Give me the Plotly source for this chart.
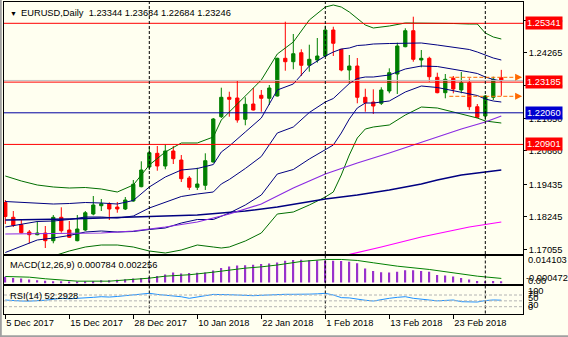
import plotly.graph_objects as go

W, H = 568, 337
FONT = "Liberation Sans"
BG = "#FFFFF0"

# ---------------- data ----------------
bars = list(range(63))
opens = [1.18771, 1.18229, 1.17958, 1.17690, 1.17591, 1.17653, 1.17371, 1.18229, 1.17763, 1.17371,
         1.17763, 1.18350, 1.18654, 1.18727, 1.18606, 1.18533, 1.18826, 1.19351, 1.20073, 1.20575,
         1.20109, 1.20659, 1.20329, 1.19670, 1.19329, 1.19402, 1.20256, 1.21917, 1.22628, 1.22602,
         1.21822, 1.22382, 1.22701, 1.22591, 1.22676, 1.24058, 1.23933, 1.24263, 1.23801, 1.23995,
         1.24142, 1.25095, 1.24388, 1.23629, 1.23775, 1.22628, 1.22456, 1.22408, 1.22859, 1.23482,
         1.24483, 1.25070, 1.23995, 1.24058, 1.23361, 1.22797, 1.23325, 1.22896, 1.23163, 1.22283,
         1.21942, 1.22628, 1.23344]
highs = [1.18863, 1.18460, 1.18130, 1.17763, 1.18093, 1.17910, 1.18313, 1.18595, 1.18093, 1.18313,
         1.18460, 1.19010, 1.18900, 1.18779, 1.18790, 1.18973, 1.19596, 1.20282, 1.20817, 1.20843,
         1.20905, 1.20843, 1.20513, 1.19743, 1.20047, 1.20575, 1.21869, 1.22980, 1.22833, 1.23226,
         1.22628, 1.22969, 1.22896, 1.23079, 1.24080, 1.25400, 1.24949, 1.24388, 1.24556, 1.24802,
         1.25253, 1.25216, 1.24400, 1.24179, 1.24069, 1.22943, 1.22921, 1.22995, 1.23691, 1.24630,
         1.25158, 1.25583, 1.24362, 1.24116, 1.23530, 1.23482, 1.23409, 1.23556, 1.23325, 1.22382,
         1.22712, 1.23383, 1.23634]
lows = [1.17983, 1.17873, 1.17642, 1.17276, 1.17569, 1.17103, 1.17276, 1.17664, 1.17470, 1.17349,
        1.17727, 1.18302, 1.18460, 1.18130, 1.18397, 1.18496, 1.18801, 1.19329, 1.19963, 1.19937,
        1.19989, 1.20183, 1.19523, 1.19230, 1.19230, 1.19230, 1.20238, 1.21869, 1.21917, 1.21697,
        1.21602, 1.22144, 1.22100, 1.22346, 1.22657, 1.23603, 1.23655, 1.23409, 1.23567, 1.23896,
        1.24116, 1.24142, 1.23581, 1.23141, 1.22408, 1.22100, 1.22016, 1.22346, 1.22775, 1.22749,
        1.24461, 1.23933, 1.23728, 1.23200, 1.22775, 1.22591, 1.22775, 1.22775, 1.22162, 1.21858,
        1.21796, 1.22529, 1.22684]
closes = [1.18258, 1.17936, 1.17664, 1.17591, 1.17653, 1.17371, 1.18229, 1.17738, 1.17496, 1.17800,
          1.18397, 1.18680, 1.18727, 1.18533, 1.18533, 1.18863, 1.19439, 1.19963, 1.20597, 1.20109,
          1.20659, 1.20377, 1.19644, 1.19329, 1.19450, 1.20304, 1.21832, 1.22628, 1.22555, 1.21796,
          1.22371, 1.22162, 1.22591, 1.22969, 1.24058, 1.23933, 1.24226, 1.23801, 1.24021, 1.24142,
          1.25095, 1.24608, 1.23629, 1.23775, 1.22628, 1.22430, 1.22309, 1.22896, 1.23530, 1.24509,
          1.25070, 1.24021, 1.24058, 1.23383, 1.22797, 1.23288, 1.22932, 1.23163, 1.22283, 1.21895,
          1.22676, 1.23288, 1.23246]

# Bollinger bands (read at selected bars)
bb_bars = [0, 2, 4, 6, 8, 10, 12, 14, 16, 18, 20, 22, 24, 26, 27, 28, 30, 32, 34, 36, 38, 40, 41,
           42, 43, 44, 45, 46, 48, 50, 52, 54, 56, 58, 59, 60, 61, 62]
bb_upper2 = [1.19743, 1.19560, 1.19413, 1.19340, 1.19303, 1.19321, 1.19266, 1.19156, 1.19413, 1.20146,
             1.20623, 1.20953, 1.20953, 1.21173, 1.21796, 1.22089, 1.22676, 1.23262, 1.24215, 1.24655,
             1.25462, 1.25938, 1.26012, 1.25938, 1.25755, 1.25499, 1.25279, 1.25169, 1.25242, 1.25352,
             1.25352, 1.25352, 1.25334, 1.25315, 1.25315, 1.24985, 1.24839, 1.24765]
bb_upper1 = [1.18808, 1.18771, 1.18753, 1.18716, 1.18735, 1.18771, 1.18753, 1.18716, 1.18845, 1.19340,
             1.19706, 1.19963, 1.20018, 1.20164, 1.20623, 1.20843, 1.21356, 1.21869, 1.22896, 1.23116,
             1.23775, 1.24142, 1.24289, 1.24399, 1.24435, 1.24527, 1.24545, 1.24582, 1.24600, 1.24619,
             1.24619, 1.24545, 1.24472, 1.24380, 1.24289, 1.24179, 1.24069, 1.23995]
bb_middle = [1.17873, 1.17965, 1.18075, 1.18093, 1.18148, 1.18240, 1.18240, 1.18203, 1.18276, 1.18570,
             1.18771, 1.18991, 1.19083, 1.19156, 1.19450, 1.19615, 1.20018, 1.20458, 1.21319, 1.21539,
             1.22071, 1.22456, 1.22584, 1.22859, 1.23134, 1.23317, 1.23372, 1.23372, 1.23446, 1.23666,
             1.23775, 1.23757, 1.23666, 1.23556, 1.23501, 1.23372, 1.23281, 1.23226]
bb_lower1 = [1.16938, 1.17158, 1.17397, 1.17470, 1.17562, 1.17690, 1.17727, 1.17690, 1.17708, 1.17782,
             1.17837, 1.18020, 1.18148, 1.18148, 1.18276, 1.18386, 1.18680, 1.19046, 1.19816, 1.19981,
             1.20366, 1.20714, 1.20879, 1.21319, 1.21832, 1.22236, 1.22419, 1.22419, 1.22492, 1.22822,
             1.23042, 1.22987, 1.22877, 1.22749, 1.22694, 1.22566, 1.22492, 1.22456]
bb_lower2 = [1.16003, 1.16370, 1.16737, 1.16810, 1.16993, 1.17140, 1.17213, 1.17213, 1.17140, 1.16993,
             1.16920, 1.17030, 1.17213, 1.17140, 1.17103, 1.17140, 1.17360, 1.17653, 1.18350, 1.18423,
             1.18680, 1.18973, 1.19156, 1.19780, 1.20513, 1.21136, 1.21466, 1.21539, 1.21613, 1.21979,
             1.22272, 1.22236, 1.22089, 1.21942, 1.21869, 1.21759, 1.21723, 1.21686]

# moving averages
ma_violet_bars = [0, 6, 12, 16, 20, 24, 28, 32, 36, 40, 44, 48, 51, 54, 57, 60, 62]
ma_violet = [1.17617, 1.17635, 1.17653, 1.17727, 1.17873, 1.18056, 1.18350, 1.18716, 1.19303,
             1.19816, 1.20219, 1.20586, 1.20879, 1.21173, 1.21466, 1.21723, 1.21942]
ma_navy_bars = [0, 8, 16, 24, 30, 34, 40, 44, 48, 52, 54, 57, 62]
ma_navy = [1.18130, 1.18167, 1.18240, 1.18313, 1.18460, 1.18606, 1.18900, 1.19046, 1.19230,
           1.19450, 1.19596, 1.19780, 1.19963]
ma_magenta_bars = [40, 44, 47, 52, 58, 62]
ma_magenta = [1.16663, 1.16920, 1.17140, 1.17507, 1.17873, 1.18056]

# MACD(12,26,9)
macd_hist = [0.00313, 0.00248, 0.00216, 0.00162, 0.00124, 0.00097, 0.00076, 0.00076, 0.00054, 0.00065,
             0.00070, 0.00081, 0.00124, 0.00130, 0.00157, 0.00184, 0.00221, 0.00254, 0.00308, 0.00356,
             0.00443, 0.00540, 0.00497, 0.00518, 0.00529, 0.00540, 0.00648, 0.00783, 0.00864, 0.00918,
             0.00934, 0.00966, 0.00999, 0.01026, 0.01090, 0.01177, 0.01220, 0.01231, 0.01204, 0.01198,
             0.01198, 0.01182, 0.01161, 0.01123, 0.01042, 0.00756, 0.00621, 0.00561, 0.00540, 0.00583,
             0.00669, 0.00669, 0.00626, 0.00583, 0.00410, 0.00378, 0.00335, 0.00254, 0.00167, 0.00086,
             0.00070, 0.00081, 0.000784]
signal_bars = [0, 3, 5, 9, 13, 16, 18, 20, 23, 26, 28, 30, 32, 34, 37, 40, 42, 44, 46, 49, 53, 56, 59, 62]
signal_vals = [0.00331, 0.00293, 0.00207, 0.00077, 0.00077, 0.00169, 0.00239, 0.00347, 0.00423, 0.00563,
               0.00690, 0.00779, 0.00850, 0.00950, 0.01141, 0.01249, 0.01249, 0.01195, 0.01070, 0.00887,
               0.00709, 0.00531, 0.00347, 0.002256]

# RSI(14)
rsi_vals = [52.9, 50.5, 49.5, 49.0, 49.5, 52.0, 55.3, 58.7, 57.0, 58.0,
            58.7, 62.0, 64.2, 63.0, 65.0, 68.0, 70.0, 73.0, 75.8, 72.0,
            70.0, 67.6, 64.0, 58.7, 62.0, 67.6, 72.0, 72.4, 71.0, 70.0,
            68.0, 67.6, 69.0, 71.0, 72.4, 72.4, 72.4, 72.0, 73.0, 74.0,
            75.8, 70.0, 61.0, 60.0, 55.5, 52.0, 49.5, 55.0, 58.7, 62.0,
            64.2, 58.7, 57.0, 52.9, 50.0, 51.0, 52.9, 47.1, 45.5, 46.0,
            51.0, 53.0, 52.29]
rsi_levels = [70, 50, 30]

price_ticks = [1.25455, 1.24265, 1.23075, 1.21850, 1.20660, 1.19435, 1.18245, 1.17055]
hline_levels = [1.25341, 1.23185, 1.22060, 1.20901]
hline_colors = ["#FF0000", "#FF0000", "#0000A0", "#FF0000"]
hline_box_colors = ["#FF0000", "#FF0000", "#0000D0", "#FF0000"]
bid_price = 1.23246
arrow_levels = [1.23361, 1.22665]
arrow_from, arrow_to = 55.5, 64.6
separators = [18, 40, 60]
date_ticks = [0, 8, 16, 24, 32, 40, 48, 56]
date_labels = ["5 Dec 2017", "15 Dec 2017", "28 Dec 2017", "10 Jan 2018", "22 Jan 2018",
               "1 Feb 2018", "13 Feb 2018", "23 Feb 2018"]
title_text = "EURUSD,Daily  1.23344 1.23634 1.22684 1.23246"
macd_text = "MACD(12,26,9) 0.000784 0.002256"
rsi_text = "RSI(14) 52.2928"

# ---------------- geometry ----------------
def pyp(Y):
    return 1 - Y / H

def pxp(X):
    return X / W

P_REF, Y_REF, P_PER_PX = 1.25341, 23.3, 0.0003666

def price_at(Y):
    return P_REF - (Y - Y_REF) * P_PER_PX

MAIN_T, MAIN_B = 1.5, 254.0
MACD_T, MACD_B = 255.5, 283.5
RSI_T, RSI_B = 285.5, 313.5
X_L, X_R = 4.0, 523.0
BAR0_X, BAR_W = 5.3, 8.0
x_range = [(X_L - BAR0_X) / BAR_W, (X_R - BAR0_X) / BAR_W]
x_dom = [pxp(X_L), pxp(X_R)]

MACD_PER_PX, MACD_ZERO_Y = 0.0005398, 282.6
macd_range = [(MACD_ZERO_Y - MACD_B) * MACD_PER_PX, (MACD_ZERO_Y - MACD_T) * MACD_PER_PX]
RSI_PX_PER, RSI70_Y = 0.2925, 295.0
rsi_range = [70 - (RSI_B - RSI70_Y) / RSI_PX_PER, 70 + (RSI70_Y - RSI_T) / RSI_PX_PER]

GREEN_BAND = "#006E00"
NAVY = "#000080"

fig = go.Figure()

fig.add_trace(go.Candlestick(
    x=bars, open=opens, high=highs, low=lows, close=closes,
    increasing=dict(line=dict(color="#008000", width=1), fillcolor="#008000"),
    decreasing=dict(line=dict(color="#FF0000", width=1), fillcolor="#FF0000"),
    whiskerwidth=0, showlegend=False, hoverinfo="skip", xaxis="x", yaxis="y"))

def add_line(xs, ys, color, width=1, xa="x", ya="y"):
    fig.add_trace(go.Scatter(x=xs, y=ys, mode="lines", line=dict(color=color, width=width),
                             showlegend=False, hoverinfo="skip", xaxis=xa, yaxis=ya))

add_line(bb_bars, bb_upper2, GREEN_BAND)
add_line(bb_bars, bb_lower2, GREEN_BAND)
add_line(bb_bars, bb_upper1, NAVY)
add_line(bb_bars, bb_middle, NAVY)
add_line(bb_bars, bb_lower1, NAVY)
add_line(ma_navy_bars, ma_navy, NAVY, 1.5)
add_line(ma_violet_bars, ma_violet, "#8A2BE2", 1.2)
add_line(ma_magenta_bars, ma_magenta, "#FF00FF", 1.2)

fig.add_trace(go.Bar(x=bars, y=macd_hist, width=0.22, marker=dict(color="#9932CC", line=dict(width=0)),
                     showlegend=False, hoverinfo="skip", xaxis="x2", yaxis="y2"))
add_line(signal_bars, signal_vals, "#008000", 1, "x2", "y2")
add_line(bars, rsi_vals, "#1E90FF", 1, "x3", "y3")

shapes = []
for lvl, col in zip(hline_levels, hline_colors):
    shapes.append(dict(type="line", xref="x domain", yref="y", x0=0, x1=1, y0=lvl, y1=lvl,
                       line=dict(color=col, width=1)))
shapes.append(dict(type="line", xref="x domain", yref="y", x0=0, x1=1, y0=bid_price, y1=bid_price,
                   line=dict(color="#C0C0C0", width=1)))
for lvl in arrow_levels:
    shapes.append(dict(type="line", xref="x", yref="y", x0=arrow_from, x1=arrow_to - 0.4, y0=lvl, y1=lvl,
                       line=dict(color="#FF6A00", width=1, dash="4px,2px")))
for xa, ya in [("x", "y"), ("x2", "y2"), ("x3", "y3")]:
    for s in separators:
        shapes.append(dict(type="line", xref=xa, yref=ya + " domain", x0=s, x1=s, y0=0, y1=1,
                           line=dict(color="black", width=1, dash="3px,2px")))
for lvl in rsi_levels:
    shapes.append(dict(type="line", xref="x3 domain", yref="y3", x0=0, x1=1, y0=lvl, y1=lvl,
                       line=dict(color="#B4B4B4", width=1, dash="3px,2px")))
# window border
shapes.append(dict(type="line", xref="paper", yref="paper", x0=pxp(0.8), x1=pxp(0.8), y0=0, y1=1,
                   line=dict(color="#A0A0A0", width=2)))
shapes.append(dict(type="line", xref="paper", yref="paper", x0=0, x1=1, y0=pyp(336.2), y1=pyp(336.2),
                   line=dict(color="#A0A0A0", width=2)))

annotations = []

def ann(text, X, Y, anchor="left", color="black", size=9.3, bg=None):
    d = dict(text=text, x=pxp(X), y=pyp(Y), xref="paper", yref="paper", xanchor=anchor,
             yanchor="middle", showarrow=False, font=dict(family=FONT, size=size, color=color))
    if bg:
        d["bgcolor"] = bg
    annotations.append(d)

ann("\u25BC", 8, 13.5, size=7)
ann(title_text, 19, 13.5)
ann(macd_text, 8, 265)
ann(rsi_text, 8, 295.5)
ann("0.014103", 526, 259.5)
ann("0.00", 526, 281)
ann("-0.000472", 523.5, 277.5)
ann("100", 526, 290.5)
ann("70", 526, 293.5)
ann("50", 526, 297.5)
ann("30", 526, 305)
ann("0", 526, 307)

for lvl, col in zip(hline_levels, hline_box_colors):
    annotations.append(dict(text="%.5f" % lvl, x=pxp(524.5), y=lvl, xref="paper", yref="y",
                            xanchor="left", yanchor="middle", showarrow=False, bgcolor=col,
                            borderpad=1, font=dict(family=FONT, size=9.3, color="white")))
for lvl in arrow_levels:
    annotations.append(dict(text="", x=arrow_to, y=lvl, ax=arrow_to - 0.6, ay=lvl, xref="x", yref="y",
                            axref="x", ayref="y", showarrow=True, arrowhead=2, arrowsize=1.4,
                            arrowwidth=1, arrowcolor="#FF6A00"))

axis_common = dict(showgrid=False, zeroline=False, showline=True, mirror=True, linecolor="black",
                   linewidth=1)

fig.update_layout(
    width=W, height=H, margin=dict(l=0, r=0, t=0, b=0),
    paper_bgcolor=BG, plot_bgcolor=BG, showlegend=False, boxgap=0.42,
    font=dict(family=FONT, size=9.3, color="black"),
    xaxis=dict(domain=x_dom, range=x_range, anchor="y", showticklabels=False, ticks="",
               rangeslider=dict(visible=False), **axis_common),
    yaxis=dict(domain=[pyp(MAIN_B), pyp(MAIN_T)], range=[price_at(MAIN_B), price_at(MAIN_T)],
               anchor="x", side="right", tickvals=price_ticks, ticktext=["%.5f" % v for v in price_ticks],
               ticks="outside", ticklen=3, tickcolor="black",
               tickfont=dict(family=FONT, size=9.3, color="black"), **axis_common),
    xaxis2=dict(domain=x_dom, range=x_range, anchor="y2", showticklabels=False, ticks="", **axis_common),
    yaxis2=dict(domain=[pyp(MACD_B), pyp(MACD_T)], range=macd_range, anchor="x2",
                showticklabels=False, ticks="", **axis_common),
    xaxis3=dict(domain=x_dom, range=x_range, anchor="y3", tickvals=date_ticks, ticktext=date_labels,
                ticks="outside", ticklen=4, tickcolor="black", ticklabelposition="outside right",
                tickfont=dict(family=FONT, size=9.3, color="black"), **axis_common),
    yaxis3=dict(domain=[pyp(RSI_B), pyp(RSI_T)], range=rsi_range, anchor="x3",
                showticklabels=False, ticks="", **axis_common),
    shapes=shapes, annotations=annotations,
)

fig.write_html("out.html")
